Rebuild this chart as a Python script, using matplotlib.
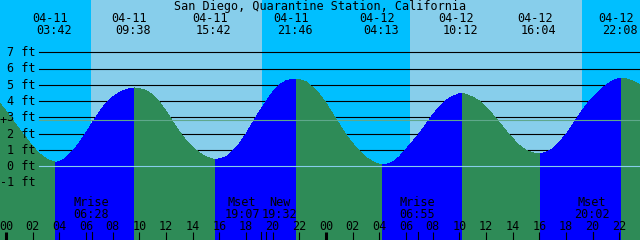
import matplotlib
matplotlib.use("Agg")
import matplotlib.pyplot as plt
import matplotlib.transforms as mtransforms
import numpy as np

TITLE = "San Diego, Quarantine Station, California"

# water level (ft) every half hour, first value at 04-10 23:30
level_start = -0.5
level_step = 0.5
level_ft = [
    3.92, 3.38, 2.83, 2.28, 1.74, 1.22, 0.78, 0.47, 0.28, 0.28, 0.52, 0.92,
    1.45, 2.05, 2.70, 3.33, 3.87, 4.25, 4.53, 4.71, 4.80, 4.78, 4.65, 4.38,
    3.95, 3.38, 2.75, 2.12, 1.58, 1.17, 0.82, 0.58, 0.45, 0.45, 0.58, 0.92,
    1.38, 1.98, 2.68, 3.35, 3.98, 4.55, 5.00, 5.24, 5.35, 5.33, 5.18, 4.85,
    4.42, 3.87, 3.22, 2.57, 1.93, 1.40, 0.93, 0.55, 0.28, 0.11, 0.10, 0.25,
    0.58, 1.05, 1.52, 2.02, 2.58, 3.15, 3.65, 4.05, 4.30, 4.45, 4.42, 4.25,
    4.00, 3.62, 3.17, 2.68, 2.17, 1.70, 1.28, 0.97, 0.82, 0.76, 0.85, 1.08,
    1.48, 1.95, 2.55, 3.18, 3.75, 4.22, 4.62, 4.98, 5.25, 5.40, 5.38, 5.24,
    5.02, 4.72,
]

# high and low tides (hours from 04-11 00:00)
tide_hours = [3.70, 9.633, 15.70, 21.767, 28.217, 34.20, 40.067, 46.133]
tide_ft = [0.25, 4.81, 0.43, 5.36, 0.08, 4.48, 0.76, 5.42]
tide_dates = ["04-11", "04-11", "04-11", "04-11", "04-12", "04-12", "04-12", "04-12"]
tide_times = ["03:42", "09:38", "15:42", "21:46", "04:13", "10:12", "16:04", "22:08"]

# sunrise / sunset
daylight = [(6.375, 19.2), (30.3, 43.2)]

# moon events
moon_hours = [6.467, 19.117, 19.533, 30.917, 44.033]
moon_names = ["Mrise", "Mset", "New", "Mrise", "Mset"]
moon_times = ["06:28", "19:07", "19:32", "06:55", "20:02"]
moon_shift = [0.0, -1.3, 1.1, 0.0, 0.0]

mean_level = 2.84
ft_marks = list(range(-1, 8))

NIGHT = "#00BFFF"
DAY = "#87CEEB"
FLOOD = "#0000FF"
EBB = "#2E8B57"
FONT = "DejaVu Sans Mono"
FS = 8.5

W, H = 640, 240
px_per_h = 320 / 24.0
x0_px = 6.0            # pixel of 04-11 00:00
ft0_px = 166.3         # pixel of 0 ft
px_per_ft = 16.28

fig = plt.figure(figsize=(6.4, 2.4), dpi=100)
ax = fig.add_axes([0, 0, 1, 1])
ax.set_xlim(-x0_px / px_per_h, (W - x0_px) / px_per_h)
ax.set_ylim((ft0_px - H) / px_per_ft, ft0_px / px_per_ft)
ax.axis("off")
ax.set_facecolor(NIGHT)
fig.patch.set_facecolor(NIGHT)
ax.axvspan(-10, 60, color=NIGHT, zorder=0, lw=0)
for a, b in daylight:
    ax.axvspan(a, b, color=DAY, zorder=1, lw=0)

trans = mtransforms.blended_transform_factory(ax.transData, ax.transAxes)
grid_x = 39.3 / W

# grid lines, behind the water
for v in ft_marks:
    if v != 0:
        ax.axhline(v, xmin=grid_x, xmax=1, color="black", lw=0.8, zorder=2)

# water
t = np.concatenate([level_start + level_step * np.arange(len(level_ft)), tide_hours])
y = np.concatenate([level_ft, tide_ft])
order = np.argsort(t)
t, y = t[order], y[order]
bounds = [t[0]] + tide_hours + [t[-1]]
for b0, b1 in zip(bounds[:-1], bounds[1:]):
    m = (t >= b0) & (t <= b1)
    ys = y[m]
    col = FLOOD if ys[-1] > ys[0] else EBB
    ax.fill_between(t[m], ys, -20, color=col, lw=0, antialiased=False, zorder=3)

ax.axhline(0, xmin=grid_x, xmax=1, color=DAY, lw=0.8, zorder=4)
ax.axhline(mean_level, xmin=grid_x, xmax=1, color="#5fa88c", lw=0.8, zorder=4)


def yfrac(py):
    return 1 - py / H


# feet labels
for v in ft_marks:
    py = ft0_px - v * px_per_ft + 3.8
    ax.text(35.5 / W, yfrac(py), f"{v} ft", transform=ax.transAxes, ha="right",
            va="baseline", fontsize=FS, family=FONT, zorder=5)
ax.text(3.5 / W, yfrac(ft0_px - mean_level * px_per_ft), "+", transform=ax.transAxes,
        ha="center", va="center", fontsize=FS, family=FONT, zorder=5)

# title and tide times
ax.text(0.5, yfrac(10), TITLE, transform=ax.transAxes, ha="center", va="baseline",
        fontsize=FS, family=FONT, zorder=5)
for h, d, s in zip(tide_hours, tide_dates, tide_times):
    ax.text(h - 5.5 / px_per_h, yfrac(22), d, transform=trans, ha="center",
            va="baseline", fontsize=FS, family=FONT, zorder=5)
    ax.text(h - 1.5 / px_per_h, yfrac(34), s, transform=trans, ha="center",
            va="baseline", fontsize=FS, family=FONT, zorder=5)

# moon events
for h, n, s, sh in zip(moon_hours, moon_names, moon_times, moon_shift):
    hx = h + sh - 0.1
    ax.text(hx, yfrac(206), n, transform=trans, ha="center", va="baseline",
            fontsize=FS, family=FONT, zorder=5)
    ax.text(hx, yfrac(217.5), s, transform=trans, ha="center", va="baseline",
            fontsize=FS, family=FONT, zorder=5)
    ax.plot([h, h], [0, 8 / H], transform=trans, color="black", lw=0.8, zorder=5)

# hour ticks
for hr in range(0, 50, 2):
    thick = hr % 24 == 0
    ax.plot([hr, hr], [0, 8 / H], transform=trans, color="black",
            lw=2.2 if thick else 0.8, zorder=5, solid_capstyle="butt")
    ax.text(hr, yfrac(229.5), f"{hr % 24:02d}", transform=trans, ha="center",
            va="baseline", fontsize=FS, family=FONT, zorder=5, clip_on=False)

fig.savefig("out.png", dpi=100, facecolor=NIGHT)
